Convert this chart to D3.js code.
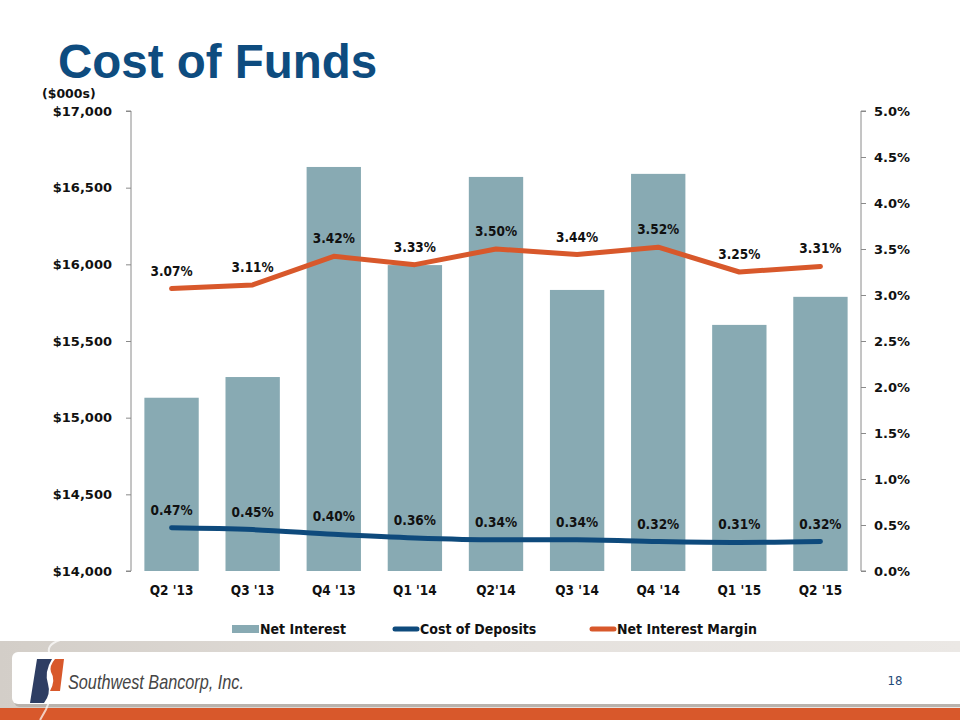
<!DOCTYPE html>
<html><head><meta charset="utf-8">
<script src="https://cdn.jsdelivr.net/npm/d3@7"></script>
<style>
html,body{margin:0;padding:0;background:#fff;}
svg{display:block;}
</style></head>
<body>
<svg id="chart" width="960" height="720"></svg>
<script>
const categories = ["Q2 '13","Q3 '13","Q4 '13","Q1 '14","Q2'14","Q3 '14","Q4 '14","Q1 '15","Q2 '15"];
const netInterest = [15130, 15265, 16635, 15995, 16570, 15833, 16590, 15605, 15788];
const costOfDeposits = [0.47, 0.45, 0.40, 0.36, 0.34, 0.34, 0.32, 0.31, 0.32];
const netInterestMargin = [3.07, 3.11, 3.42, 3.33, 3.50, 3.44, 3.52, 3.25, 3.31];
const leftTicks = [14000, 14500, 15000, 15500, 16000, 16500, 17000];
const rightTicks = [0, 0.5, 1.0, 1.5, 2.0, 2.5, 3.0, 3.5, 4.0, 4.5, 5.0];
const legendLabels = ["Net Interest", "Cost of Deposits", "Net Interest Margin"];

const svg = d3.select("#chart");
const C = {bar:"#88AAB3", blue:"#0E4A7C", orange:"#D8582B", axis:"#8a8a8a", title:"#0E4C7F"};
const L = 131, R = 861, T = 111, B = 571;

// Footer
const defs = svg.append("defs");
const g1 = defs.append("linearGradient").attr("id","band").attr("x1",0).attr("x2",1).attr("y1",0).attr("y2",0);
g1.append("stop").attr("offset","0").attr("stop-color","#d3cec8");
g1.append("stop").attr("offset","0.5").attr("stop-color","#e4e0dc");
g1.append("stop").attr("offset","1").attr("stop-color","#ebe8e5");
svg.append("rect").attr("x",0).attr("y",641).attr("width",960).attr("height",79).attr("fill","url(#band)");
svg.append("rect").attr("x",14).attr("y",655).attr("width",960).attr("height",52).attr("rx",6).attr("fill","#b9b3ad");
svg.append("rect").attr("x",12).attr("y",652).attr("width",960).attr("height",52).attr("rx",6).attr("fill","#ffffff");
svg.append("rect").attr("x",0).attr("y",708).attr("width",960).attr("height",12).attr("fill",C.orange);
svg.append("path").attr("d","M40,720 Q60,690 50,655 Q45,645 60,640").attr("fill","none").attr("stroke","#ffffff").attr("stroke-width",2).attr("opacity",0.7);
// logo
svg.append("path").attr("d","M37,659 L52,659 Q44,672 48,684 Q51,694 44,703 L30,703 Z").attr("fill","#2E3E63");
svg.append("path").attr("d","M55,659 L64,659 L60,691 L50,691 Q56,680 51,672 Q49,666 55,659 Z").attr("fill",C.orange);
svg.append("text").attr("x",68).attr("y",689).attr("font-family","'Liberation Sans Narrow','Liberation Sans',Arial,sans-serif")
  .attr("font-style","italic").attr("font-size",21).attr("fill","#454545").attr("textLength",176).attr("lengthAdjust","spacingAndGlyphs")
  .text("Southwest Bancorp, Inc.");
svg.append("text").attr("x",895).attr("y",685).attr("text-anchor","middle").attr("font-family","'DejaVu Sans Condensed','DejaVu Sans',sans-serif")
  .attr("font-size",13).attr("fill","#1F4A78").text("18");

// Title
svg.append("text").attr("x",58).attr("y",78).attr("font-family","'Liberation Sans',Arial,sans-serif").attr("font-weight","bold")
  .attr("font-size",47.5).attr("fill",C.title).text("Cost of Funds");
svg.append("text").attr("x",42).attr("y",98).attr("font-family","'DejaVu Sans',Verdana,sans-serif").attr("font-weight","bold")
  .attr("font-size",12.5).attr("fill","#111").text("($000s)");

// Scales
const x = d3.scaleBand().domain(categories).range([L,R]).paddingInner(0.33).paddingOuter(0.165);
const yL = d3.scaleLinear().domain([14000,17000]).range([B,T]);
const yR = d3.scaleLinear().domain([0,5]).range([B,T]);

// Bars
svg.append("g").selectAll("rect").data(netInterest).join("rect")
  .attr("x",(d,i)=>x(categories[i])).attr("width",x.bandwidth())
  .attr("y",d=>yL(d)).attr("height",d=>B-yL(d)).attr("fill",C.bar);

// Axes
const axFont = "'DejaVu Sans',Verdana,sans-serif";
const gl = svg.append("g").attr("transform",`translate(${L},0)`)
  .call(d3.axisLeft(yL).tickValues(leftTicks).tickSize(5).tickPadding(14).tickFormat(d=>"$"+d3.format(",")(d)));
const gr = svg.append("g").attr("transform",`translate(${R},0)`)
  .call(d3.axisRight(yR).tickValues(rightTicks).tickSize(5).tickPadding(8).tickFormat(d=>d3.format(".1f")(d)+"%"));
[gl,gr].forEach(g=>{
  g.selectAll("path.domain").attr("stroke",C.axis).attr("stroke-width",1);
  g.selectAll(".tick line").attr("stroke",C.axis);
  g.selectAll("text").attr("font-family",axFont).attr("font-weight","bold").attr("font-size",13).attr("fill","#111");
});
gl.select("path.domain").attr("d",`M-5,${T}H0V${B}H-5`);
gr.select("path.domain").attr("d",`M5,${T}H0V${B}H5`);

// X labels
const gx = svg.append("g").attr("transform",`translate(0,${B})`)
  .call(d3.axisBottom(x).tickSize(0).tickPadding(14));
gx.select("path.domain").remove();
gx.selectAll("text").attr("font-family","'DejaVu Sans Condensed','DejaVu Sans',sans-serif").attr("font-weight","bold")
  .attr("font-size",13.5).attr("fill","#111");

// Lines
const cx = i => x(categories[i]) + x.bandwidth()/2;
const lineNIM = d3.line().x((d,i)=>cx(i)).y(d=>yR(d));
const lineCOD = d3.line().x((d,i)=>cx(i)).y(d=>yR(d)).curve(d3.curveMonotoneX);
svg.append("path").datum(netInterestMargin).attr("d",lineNIM).attr("fill","none").attr("stroke",C.orange)
  .attr("stroke-width",5).attr("stroke-linejoin","round").attr("stroke-linecap","round");
svg.append("path").datum(costOfDeposits).attr("d",lineCOD).attr("fill","none").attr("stroke",C.blue)
  .attr("stroke-width",5).attr("stroke-linejoin","round").attr("stroke-linecap","round");

// Data labels
const lblFont = "'DejaVu Sans Condensed','DejaVu Sans',sans-serif";
[[netInterestMargin],[costOfDeposits]].forEach(([arr])=>{
  svg.append("g").selectAll("text").data(arr).join("text")
    .attr("x",(d,i)=>cx(i)).attr("y",d=>yR(d)-13).attr("text-anchor","middle")
    .attr("font-family",lblFont).attr("font-weight","bold").attr("font-size",13.5).attr("fill","#111")
    .text(d=>d3.format(".2f")(d)+"%");
});

// Legend
const lg = svg.append("g").attr("font-family","'DejaVu Sans Condensed','DejaVu Sans',sans-serif").attr("font-weight","bold").attr("font-size",14).attr("fill","#111");
lg.append("rect").attr("x",232).attr("y",625).attr("width",27).attr("height",8).attr("fill",C.bar);
lg.append("text").attr("x",260).attr("y",634).text(legendLabels[0]);
lg.append("line").attr("x1",395).attr("x2",417).attr("y1",629).attr("y2",629).attr("stroke",C.blue).attr("stroke-width",5).attr("stroke-linecap","round");
lg.append("text").attr("x",420).attr("y",634).text(legendLabels[1]);
lg.append("line").attr("x1",592).attr("x2",614).attr("y1",629).attr("y2",629).attr("stroke",C.orange).attr("stroke-width",5).attr("stroke-linecap","round");
lg.append("text").attr("x",617).attr("y",634).text(legendLabels[2]);
</script>
</body></html>
